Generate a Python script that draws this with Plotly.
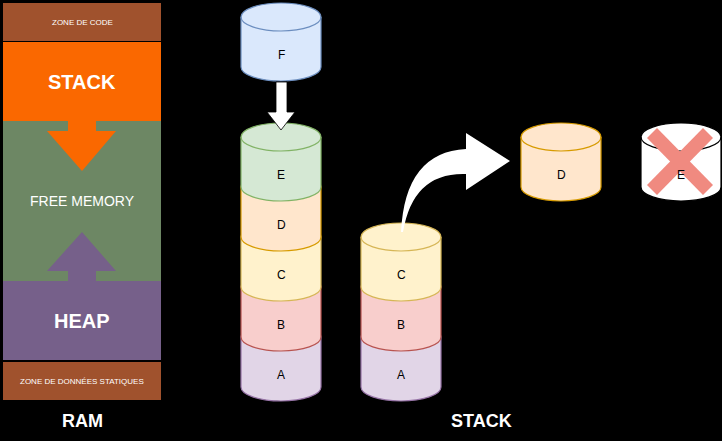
import plotly.graph_objects as go

# RAM column blocks: label, top, bottom, color
ram_labels = ["ZONE DE CODE", "STACK", "FREE MEMORY", "HEAP", "ZONE DE DONNÉES STATIQUES"]
ram_tops = [3, 42, 121, 281, 362]
ram_bottoms = [41, 121, 281, 360, 400]
ram_colors = ["#A0522D", "#FA6800", "#6D8764", "#76608A", "#A0522D"]
ram_sizes = [8, 20, 14, 20, 8]
ram_bold = [False, True, False, True, False]

# cylinders: label, x-left, top-centre, bottom-centre, fill, stroke, top_visible
cyl_labels = ["F", "A", "B", "C", "D", "E", "A", "B", "C", "D", "E"]
cyl_x = [241, 241, 241, 241, 241, 241, 361, 361, 361, 521, 641]
cyl_top = [17, 337, 287, 237, 187, 137, 337, 287, 237, 137, 137]
cyl_bot = [67, 387, 337, 287, 237, 187, 387, 337, 287, 187, 187]
cyl_fill = ["#dae8fc", "#e1d5e7", "#f8cecc", "#fff2cc", "#ffe6cc", "#d5e8d4",
            "#e1d5e7", "#f8cecc", "#fff2cc", "#ffe6cc", "#ffffff"]
cyl_line = ["#6c8ebf", "#9673a6", "#b85450", "#d6b656", "#d79b00", "#82b366",
            "#9673a6", "#b85450", "#d6b656", "#d79b00", "#000000"]
cyl_topvis = [True, False, False, False, False, True, False, False, True, True, True]

W, RY, K = 80, 14, 0.5523

shapes = []
ann = []

def txt(x, y, s, size, bold=False, color="white"):
    ann.append(dict(x=x, y=y, text=f"<b>{s}</b>" if bold else s, showarrow=False,
                    font=dict(size=size, color=color, family="Liberation Sans, Arial"),
                    xanchor="center", yanchor="middle"))

for lab, t, b, c, s, bo in zip(ram_labels, ram_tops, ram_bottoms, ram_colors, ram_sizes, ram_bold):
    shapes.append(dict(type="rect", x0=3, x1=161, y0=t, y1=b, fillcolor=c, line=dict(width=0), layer="below"))

# big arrows in RAM
shapes.append(dict(type="path", path="M 68 121 L 96 121 L 96 131 L 116 131 L 82 171 L 47 131 L 68 131 Z",
                   fillcolor="#FA6800", line=dict(width=0)))
shapes.append(dict(type="path", path="M 68 281 L 96 281 L 96 271 L 116 271 L 82 232 L 47 271 L 68 271 Z",
                   fillcolor="#76608A", line=dict(width=0)))
for lab, t, b, s, bo in zip(ram_labels, ram_tops, ram_bottoms, ram_sizes, ram_bold):
    txt(82, (t + b) / 2, lab, s, bo)
txt(82, 421, "RAM", 18, True)
txt(481, 421, "STACK", 18, True)

for lab, x0, yt, yb, f, lc, tv in zip(cyl_labels, cyl_x, cyl_top, cyl_bot, cyl_fill, cyl_line, cyl_topvis):
    x1 = x0 + W; cx = x0 + W / 2; rx = W / 2
    p = (f"M {x0} {yt} L {x0} {yb} "
         f"C {x0} {yb+K*RY} {cx-K*rx} {yb+RY} {cx} {yb+RY} "
         f"C {cx+K*rx} {yb+RY} {x1} {yb+K*RY} {x1} {yb} L {x1} {yt} "
         f"C {x1} {yt-K*RY} {cx+K*rx} {yt-RY} {cx} {yt-RY} "
         f"C {cx-K*rx} {yt-RY} {x0} {yt-K*RY} {x0} {yt} Z")
    shapes.append(dict(type="path", path=p, fillcolor=f, line=dict(color=lc, width=1.2)))
    if tv:
        p2 = (f"M {x0} {yt} C {x0} {yt+K*RY} {cx-K*rx} {yt+RY} {cx} {yt+RY} "
              f"C {cx+K*rx} {yt+RY} {x1} {yt+K*RY} {x1} {yt}")
        shapes.append(dict(type="path", path=p2, line=dict(color=lc, width=1.2)))

# red cross on removed E
shapes.append(dict(type="line", x0=652, y0=133, x1=708, y1=190, line=dict(color="#F08A80", width=14)))
shapes.append(dict(type="line", x0=708, y0=133, x1=652, y1=190, line=dict(color="#F08A80", width=14)))

for lab, x0, yb in zip(cyl_labels, cyl_x, cyl_bot):
    txt(x0 + W / 2, yb - 12, lab, 12, False, "black")

# push arrow F -> E
shapes.append(dict(type="path", path="M 276 82 L 287 82 L 287 112 L 295 112 L 281 130 L 267 112 L 276 112 Z",
                   fillcolor="white", line=dict(color="black", width=0.8)))
# pop arrow C -> D
shapes.append(dict(type="path",
                   path="M 401 232 Q 405 152 466 149 L 466 133 L 510 161 L 466 190 L 466 174 Q 413 172 403 232 Z",
                   fillcolor="white", line=dict(width=0)))

fig = go.Figure()
fig.update_layout(width=722, height=441, margin=dict(l=0, r=0, t=0, b=0),
                  paper_bgcolor="black", plot_bgcolor="black", shapes=shapes, annotations=ann,
                  xaxis=dict(range=[0, 722], visible=False, fixedrange=True),
                  yaxis=dict(range=[441, 0], visible=False, fixedrange=True),
                  showlegend=False)
fig.write_html("out.html", config=dict(displayModeBar=False),
               post_script="document.body.style.margin='0';document.body.style.background='black';document.body.style.overflow='hidden';")
